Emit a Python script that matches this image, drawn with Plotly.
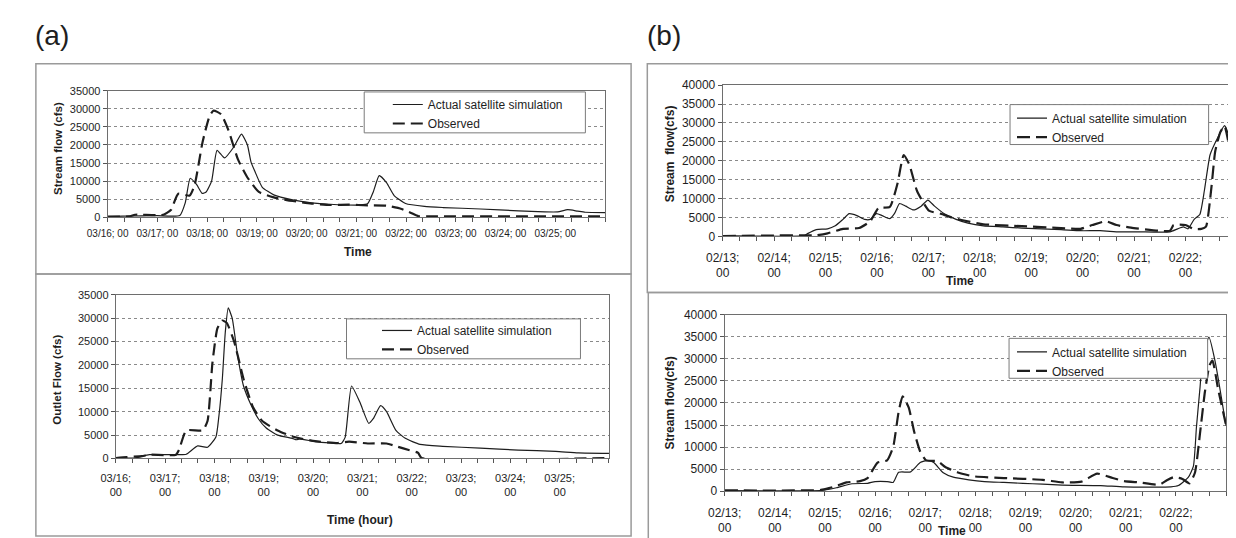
import plotly.graph_objects as go

W, H = 1236, 538

# ---------------- data (time in days from the first date label) ----------------
# (a) top: stream flow
a1_sim_t = [0, 0.3, 0.69, 1.0, 1.45, 1.56, 1.66, 1.79, 1.9, 1.98, 2.09, 2.2, 2.35, 2.54, 2.69, 2.81,
            2.88, 2.96, 3.11, 3.34, 3.72, 4.1, 4.47, 5.08, 5.23, 5.34, 5.46, 5.61, 5.76, 5.99, 6.37,
            6.74, 7.5, 8.26, 8.79, 9.05, 9.25, 9.45, 9.6, 10.0]
a1_sim_q = [200, 300, 400, 450, 500, 4000, 10800, 9000, 6600, 7000, 10000, 18500, 16400, 19500, 23000, 20000,
            15400, 12700, 8300, 6200, 4800, 4000, 3600, 3400, 3800, 7000, 11500, 9500, 6000, 3800, 3000,
            2700, 2300, 1800, 1500, 1500, 2100, 1700, 1400, 1300]
a1_obs_t = [0, 0.45, 0.55, 1.12, 1.27, 1.42, 1.65, 1.75, 1.91, 2.05, 2.13, 2.28, 2.43, 2.62, 2.81, 3.04,
            3.34, 3.72, 4.1, 4.47, 4.85, 5.23, 5.61, 5.91, 6.1, 6.25, 6.5, 10.0]
a1_obs_q = [200, 250, 700, 700, 2000, 6500, 6000, 9000, 20900, 28000, 29500, 28500, 24000, 16000, 11000, 7000,
            5500, 4500, 3800, 3400, 3500, 3300, 3200, 2300, 1200, 300, 250, 250]

# (a) bottom: outlet flow
a2_sim_t = [0, 0.38, 0.68, 1.29, 1.43, 1.66, 1.86, 2.03, 2.09, 2.16, 2.22, 2.28, 2.36, 2.47, 2.59, 2.74,
            2.89, 3.05, 3.28, 3.58, 3.66, 3.73, 4.04, 4.35, 4.57, 4.65, 4.78, 4.95, 5.13, 5.22, 5.37,
            5.49, 5.68, 5.87, 6.17, 6.63, 7.39, 8.16, 8.92, 9.38, 10.0]
a2_sim_q = [200, 100, 800, 800, 900, 2700, 2400, 4600, 9000, 17000, 27000, 32200, 30000, 22000, 15500, 11500,
            8500, 6500, 5000, 4300, 4000, 4200, 3600, 3300, 3200, 4500, 15500, 12000, 7500, 8500, 11300,
            10000, 6000, 4300, 3000, 2600, 2200, 1800, 1500, 1200, 1100]
a2_obs_t = [0, 0.22, 0.53, 0.68, 1.22, 1.28, 1.43, 1.76, 1.86, 1.96, 2.06, 2.16, 2.25, 2.4, 2.59, 2.78,
            2.97, 3.28, 3.58, 3.73, 4.04, 4.5, 4.73, 5.11, 5.49, 5.72, 5.94, 6.13, 6.2, 10.0]
a2_obs_q = [100, 300, 500, 800, 800, 1800, 6000, 6000, 8000, 20500, 27800, 29500, 29000, 25000, 17000, 11000,
            8000, 6000, 4700, 4300, 3700, 3300, 3600, 3200, 3200, 2500, 1800, 1200, 100, 100]

# (b) top: stream flow
b1_sim_t = [0, 1.59, 1.66, 1.82, 2.04, 2.19, 2.34, 2.46, 2.61, 2.76, 2.87, 2.99, 3.1, 3.25, 3.34, 3.44,
            3.56, 3.71, 3.86, 3.99, 4.12, 4.31, 4.54, 4.77, 5.07, 5.45, 5.82, 6.58, 6.96, 7.34, 7.72,
            8.09, 8.7, 8.85, 8.96, 9.05, 9.17, 9.28, 9.37, 9.48, 9.62, 9.76, 9.88, 10.0]
b1_sim_q = [200, 200, 800, 1800, 2000, 2800, 4500, 6000, 5500, 4500, 4500, 6000, 5500, 4700, 6000, 8700,
            8000, 7000, 8000, 9600, 8000, 6000, 4500, 3500, 2800, 2500, 2200, 1800, 1500, 1500, 1200,
            1200, 1200, 2000, 2500, 2000, 4500, 5800, 12200, 21600, 25900, 29300, 25000, 15600]
b1_obs_t = [0, 1.59, 1.82, 2.04, 2.34, 2.65, 2.87, 3.03, 3.25, 3.4, 3.52, 3.63, 3.78, 4.01, 4.24, 4.46,
            4.69, 5.07, 5.82, 6.58, 6.96, 7.19, 7.45, 7.66, 7.94, 8.47, 8.7, 8.77, 9.0, 9.15, 9.31, 9.4,
            9.5, 9.58, 9.68, 9.76, 9.86, 10.0]
b1_obs_q = [100, 300, 300, 800, 2000, 2200, 4000, 7500, 7800, 14000, 21500, 19000, 12000, 6800, 6000, 5000,
            4200, 3200, 2700, 2200, 2000, 3000, 4000, 3000, 2300, 1500, 1500, 3000, 3000, 2000, 2000, 2600,
            12200, 22500, 27600, 29200, 23300, 15600]

# (b) bottom: stream flow
b2_sim_t = [0, 1.9, 2.0, 2.23, 2.54, 2.85, 3.0, 3.24, 3.36, 3.47, 3.71, 3.9, 4.05, 4.17, 4.36, 4.56,
            4.87, 5.18, 5.57, 5.95, 6.34, 6.73, 7.5, 7.97, 8.9, 9.05, 9.25, 9.35, 9.41, 9.48, 9.54,
            9.66, 9.79, 10.0]
b2_sim_q = [150, 150, 300, 800, 1700, 1800, 2200, 2200, 2000, 4300, 4400, 6500, 7000, 6500, 4200, 3200,
            2600, 2200, 2000, 1800, 1600, 1400, 1300, 1000, 1000, 1300, 3200, 5700, 14500, 23300, 30700,
            34900, 29000, 14850]
b2_obs_t = [0, 1.92, 2.08, 2.23, 2.43, 2.7, 2.85, 3.05, 3.24, 3.36, 3.47, 3.55, 3.67, 3.78, 3.9, 4.02,
            4.25, 4.4, 4.64, 4.95, 5.57, 6.34, 6.73, 7.12, 7.43, 7.74, 7.97, 8.28, 8.67, 8.82, 8.96,
            9.13, 9.27, 9.38, 9.48, 9.58, 9.67, 9.73, 9.84, 10.0]
b2_obs_q = [200, 300, 700, 1200, 2000, 2300, 3000, 6500, 7000, 10000, 18000, 21500, 19000, 13500, 9000, 7000,
            6800, 5500, 4300, 3400, 3000, 2600, 2000, 2200, 4000, 3000, 2300, 2000, 1500, 2500, 3200,
            2800, 1800, 4200, 13000, 22600, 28500, 29600, 23300, 15000]

a_dates = ["03/16", "03/17", "03/18", "03/19", "03/20", "03/21", "03/22", "03/23", "03/24", "03/25"]
b_dates = ["02/13", "02/14", "02/15", "02/16", "02/17", "02/18", "02/19", "02/20", "02/21", "02/22"]
series_names = ["Actual satellite simulation", "Observed"]

FONT = "Liberation Sans, Arial, Helvetica, sans-serif"
INK = "#1e1e1e"


def px(x):
    return x / W


def py(y):
    return 1 - y / H


def ticks(dates, sep):
    vals, text = [], []
    for i in range(31):
        vals.append(i / 3)
        if i % 3 == 0 and i // 3 < len(dates):
            text.append(dates[i // 3] + sep + "00")
        else:
            text.append("")
    return vals, text


panels = [
    dict(sim=(a1_sim_t, a1_sim_q), obs=(a1_obs_t, a1_obs_q), dates=a_dates, sep="; ",
         dom=(80, 586, 77.7, 207.7), ymax=35000, tfs=11, xtfs=10, dash="12px,6px",
         ytitle="Stream flow (cfs)", ytx=30, yty=137, ytfs=11.5,
         xtitle="Time", xtx=335, xty=243,
         leg=(365, 77), legbox=(341, 566, 79, 121), standoff=3),
    dict(sim=(a2_sim_t, a2_sim_q), obs=(a2_obs_t, a2_obs_q), dates=a_dates, sep=";<br>",
         dom=(88.3, 590, 287.3, 455.3), ymax=35000, tfs=11, xtfs=11, dash="12px,6px",
         ytitle="Outlet Flow (cfs)", ytx=29, yty=375, ytfs=11.5,
         xtitle="Time (hour)", xtx=337, xty=518,
         leg=(354, 309), legbox=(323, 561, 312, 353), standoff=5),
    dict(sim=(b1_sim_t, b1_sim_q), obs=(b1_obs_t, b1_obs_q), dates=b_dates, sep=";<br>",
         dom=(705.7, 1228.7, 72, 227.3), ymax=40000, tfs=12, xtfs=12, dash="13px,6px",
         ytitle="Stream\u00a0\u00a0flow(cfs)", ytx=652, yty=142, ytfs=12,
         xtitle="Time", xtx=947, xty=273,
         leg=(1000, 91), legbox=(998, 1200, 92, 133), standoff=6),
    dict(sim=(b2_sim_t, b2_sim_q), obs=(b2_obs_t, b2_obs_q), dates=b_dates, sep=";<br>",
         dom=(707.7, 1217.7, 307.7, 489), ymax=40000, tfs=12, xtfs=12, dash="13px,6px",
         ytitle="Stream flow(cfs)", ytx=652, yty=398, ytfs=12,
         xtitle="Time", xtx=939, xty=530,
         leg=(1000, 331), legbox=(997, 1199, 332, 373), standoff=6),
]

fig = go.Figure()
layout = dict(width=W, height=H, margin=dict(l=0, r=0, t=0, b=0),
              paper_bgcolor="white", plot_bgcolor="white", showlegend=True,
              font=dict(family=FONT, color=INK))
shapes, annotations = [], []

for k, p in enumerate(panels, start=1):
    sfx = "" if k == 1 else str(k)
    legname = "legend" + sfx
    x0, x1, y0, y1 = p["dom"]
    fig.add_trace(go.Scatter(x=p["sim"][0], y=p["sim"][1], mode="lines", name=series_names[0],
                             line=dict(color=INK, width=1.2, shape="spline", smoothing=0.5),
                             xaxis="x" + sfx, yaxis="y" + sfx, legend=legname))
    fig.add_trace(go.Scatter(x=p["obs"][0], y=p["obs"][1], mode="lines", name=series_names[1],
                             line=dict(color=INK, width=2.2, dash=p["dash"], shape="spline", smoothing=0.5),
                             xaxis="x" + sfx, yaxis="y" + sfx, legend=legname))
    tv, tt = ticks(p["dates"], p["sep"])
    layout["xaxis" + sfx] = dict(domain=[px(x0), px(x1)], anchor="y" + sfx, range=[0, 10],
                                 tickmode="array", tickvals=tv, ticktext=tt,
                                 ticks="outside", ticklen=4, tickcolor="#555", tickwidth=1,
                                 ticklabelstandoff=p["standoff"],
                                 showline=True, linecolor="#6e6e6e", linewidth=1, mirror=True,
                                 showgrid=False, zeroline=False,
                                 tickfont=dict(size=p["xtfs"], family=FONT, color=INK))
    layout["yaxis" + sfx] = dict(domain=[py(y1), py(y0)], anchor="x" + sfx, range=[0, p["ymax"]],
                                 tick0=0, dtick=5000, tickformat="d",
                                 ticks="outside", ticklen=4, tickcolor="#555",
                                 showline=True, linecolor="#6e6e6e", linewidth=1, mirror=True,
                                 showgrid=True, gridcolor="#8a8a8a", griddash="dot", gridwidth=1,
                                 zeroline=False,
                                 tickfont=dict(size=p["tfs"], family=FONT, color=INK))
    lx, ly = p["leg"]
    layout[legname] = dict(x=px(lx), y=py(ly), xanchor="left", yanchor="top",
                           bgcolor="rgba(0,0,0,0)", borderwidth=0, tracegroupgap=0,
                           itemwidth=30, font=dict(size=12, family=FONT, color=INK))
    bx0, bx1, by0, by1 = p["legbox"]
    shapes.append(dict(type="rect", xref="paper", yref="paper", x0=px(bx0), x1=px(bx1),
                       y0=py(by1), y1=py(by0), line=dict(color="#7a7a7a", width=1),
                       fillcolor="white", layer="above"))
    annotations.append(dict(text="<b>%s</b>" % p["ytitle"], xref="paper", yref="paper",
                            x=px(p["ytx"]), y=py(p["yty"]), textangle=-90, showarrow=False,
                            xanchor="center", yanchor="middle",
                            font=dict(size=p["ytfs"], family=FONT, color=INK)))
    annotations.append(dict(text="<b>%s</b>" % p["xtitle"], xref="paper", yref="paper",
                            x=px(p["xtx"]), y=py(p["xty"]), showarrow=False,
                            xanchor="center", yanchor="middle",
                            font=dict(size=12, family=FONT, color=INK)))

# outer panel frames
for (bx0, bx1, by0, by1) in [(7, 612.5, 50, 266), (7, 612.5, 266, 535),
                             (629, 1235, 50, 285), (630, 1233, 285, 538)]:
    shapes.append(dict(type="rect", xref="paper", yref="paper", x0=px(bx0), x1=px(bx1),
                       y0=py(by1), y1=py(by0), line=dict(color="#9a9a9a", width=1.5),
                       layer="below"))

annotations.append(dict(text="(a)", xref="paper", yref="paper", x=px(4), y=py(21), showarrow=False,
                        xanchor="left", yanchor="middle", font=dict(size=28, family=FONT, color=INK)))
annotations.append(dict(text="(b)", xref="paper", yref="paper", x=px(627), y=py(21), showarrow=False,
                        xanchor="left", yanchor="middle", font=dict(size=28, family=FONT, color=INK)))

layout["shapes"] = shapes
layout["annotations"] = annotations
fig.update_layout(**layout)
fig.write_html("out.html")
